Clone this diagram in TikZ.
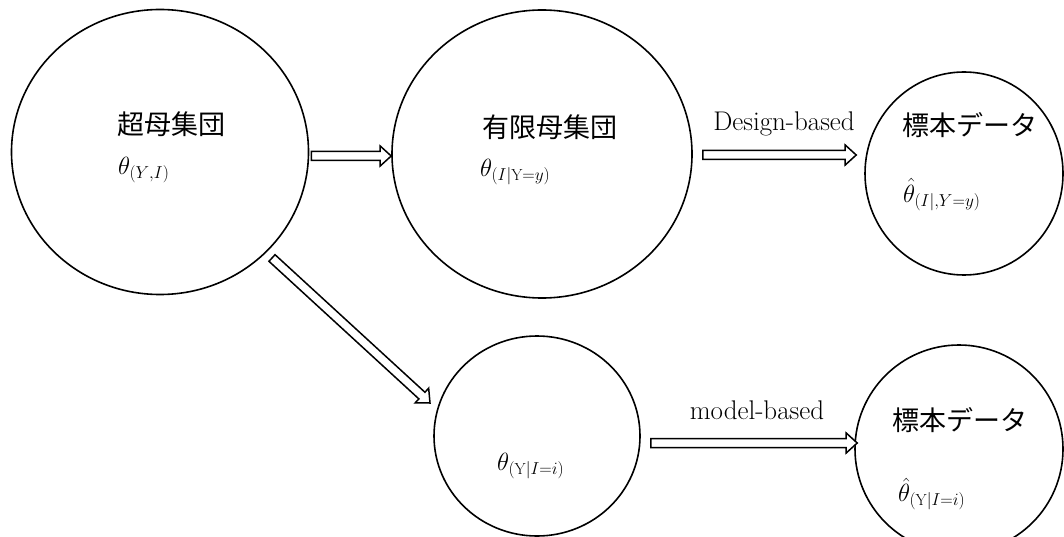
\documentclass[tikz,border=0pt]{standalone}
\usepackage{fontspec}
\newfontfamily\jp{Noto Sans CJK JP}
\usetikzlibrary{shapes.geometric,calc}
\tikzset{
  circ/.style={ellipse, draw, line width=1.6pt, inner sep=0pt},
  jtext/.style={font=\jp\fontsize{27}{30}\selectfont, inner sep=0pt},
  ltext/.style={font=\fontsize{27}{30}\selectfont, inner sep=0pt},
  mtext/.style={font=\fontsize{26}{30}\selectfont, inner sep=0pt, anchor=west},
  hollowarrow/.style={draw, line width=1.5pt, fill=white, line join=miter},
}
\newcommand\subtxt[1]{\mbox{\fontsize{16}{16}\selectfont$#1$}}
\newcommand\hollowArrow[2]{%
  \coordinate (hA) at (#1);
  \coordinate (hB) at (#2);
  \coordinate (hC) at ($(hB)!11pt!(hA)$);
  \draw[hollowarrow] ($(hA)!4.5pt!90:(hB)$) -- ($(hC)!4.5pt!-90:(hA)$)
    -- ($(hC)!10pt!-90:(hA)$) -- (hB) -- ($(hC)!10pt!90:(hA)$)
    -- ($(hC)!4.5pt!90:(hA)$) -- ($(hA)!4.5pt!-90:(hB)$) -- cycle;}
\begin{document}
\begin{tikzpicture}[x=1pt,y=-1pt]
\useasboundingbox (0,0) rectangle (1064,537);
% circles
\node[circ, minimum width=297pt, minimum height=285pt] (c1) at (160,152) {};
\node[circ, minimum width=300pt, minimum height=288pt] (c2) at (542,154) {};
\node[circ, minimum width=198pt, minimum height=203pt] (c3) at (964,173.5) {};
\node[circ, minimum width=206pt, minimum height=200pt] (c4) at (537,436) {};
\node[circ, minimum width=208pt, minimum height=208pt] (c5) at (959,449) {};
% texts
\node[jtext] (t1) at (171,124) {超母集団};
\node[mtext] (m1) at (118,170) {$\theta_{\subtxt{(Y{,}I)}}$};
\node[jtext] (t2) at (550,127) {有限母集団};
\node[mtext] (m2) at (480,172) {$\theta_{\subtxt{(I{|}\mathrm{Y}{=}y)}}$};
\node[jtext] (t3) at (970,125) {標本データ};
\node[mtext] (m3) at (903,195) {$\hat\theta_{\subtxt{(I{|}{,}Y{=}y)}}$};
\node[mtext] (m4) at (497,466) {$\theta_{\subtxt{(\mathrm{Y}{|}I{=}i)}}$};
\node[jtext] (t5) at (960,420) {標本データ};
\node[mtext] (m5) at (898,494) {$\hat\theta_{\subtxt{(\mathrm{Y}{|}I{=}i)}}$};
\node[ltext] (l1) at (784,124) {Design-based};
\node[ltext] (l2) at (757,410) {model-based};
% arrows
\coordinate (a1s) at ($(c1.east)+(2,4)$);
\coordinate (a1e) at ($(c2.west)+(0,2)$);
\hollowArrow{a1s}{a1e}
\coordinate (a2s) at ($(c2.east)+(10,1)$);
\coordinate (a2e) at ($(c3.west)+(-8,-18.5)$);
\hollowArrow{a2s}{a2e}
\coordinate (a3s) at (272,258);
\coordinate (a3e) at (430,403);
\hollowArrow{a3s}{a3e}
\coordinate (a4s) at ($(c4.east)+(10,7)$);
\coordinate (a4e) at ($(c5.west)+(3,-6)$);
\hollowArrow{a4s}{a4e}
\end{tikzpicture}
\end{document}
